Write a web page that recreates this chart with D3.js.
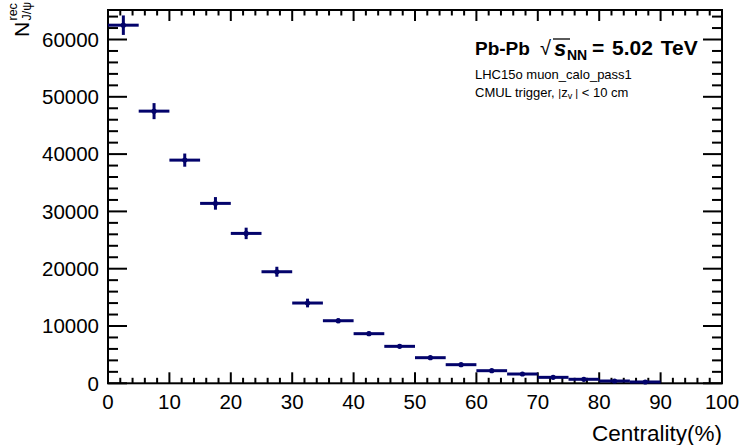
<!DOCTYPE html>
<html><head><meta charset="utf-8">
<script src="https://cdn.jsdelivr.net/npm/d3@7"></script>
<style>
body{margin:0;background:#fff;}
svg{display:block;font-family:"Liberation Sans",Arial,Helvetica,sans-serif;}
</style></head>
<body>
<svg id="c" width="744" height="445"></svg>
<script>
// ---- data ----
const binLow  = [0,5,10,15,20,25,30,35,40,45,50,55,60,65,70,75,80,85];
const binHigh = [5,10,15,20,25,30,35,40,45,50,55,60,65,70,75,80,85,90];
const counts  = [62500,47500,38950,31400,26160,19470,14010,10920,8660,6450,4470,3250,2200,1620,1040,700,400,230];
const errors  = [1700,1400,1150,1100,1000,870,760,430,350,300,250,220,180,150,120,100,80,60];
const xTicks  = [0,10,20,30,40,50,60,70,80,90,100];
const yTicks  = [0,10000,20000,30000,40000,50000,60000];

const svg = d3.select("#c");
const L=108, R=722, T=10, B=383.3;
const x = d3.scaleLinear().domain([0,100]).range([L,R]);
const y = d3.scaleLinear().domain([0,65150]).range([B,T]);
const col = "#03036b";

const xMinor = d3.range(0,101,2);
const yMinor = d3.range(0,65001,2000);

const g = svg.append("g").attr("stroke","#000").attr("stroke-width",2);
xMinor.forEach(v=>{
  const major = v%10===0;
  const len = major?11:5.5;
  g.append("line").attr("x1",x(v)).attr("x2",x(v)).attr("y1",B).attr("y2",B-len);
  g.append("line").attr("x1",x(v)).attr("x2",x(v)).attr("y1",T).attr("y2",T+len);
});
yMinor.forEach(v=>{
  const major = v%10000===0;
  const len = major?19:10;
  g.append("line").attr("y1",y(v)).attr("y2",y(v)).attr("x1",L).attr("x2",L+len);
  g.append("line").attr("y1",y(v)).attr("y2",y(v)).attr("x1",R).attr("x2",R-len);
});
svg.append("rect").attr("x",L).attr("y",T).attr("width",R-L).attr("height",B-T)
  .attr("fill","none").attr("stroke","#000").attr("stroke-width",2);

svg.append("g").selectAll("text").data(xTicks).join("text")
  .attr("x",d=>x(d)).attr("y",409).attr("text-anchor","middle")
  .attr("font-size",20.5).text(d=>d);
svg.append("g").selectAll("text").data(yTicks).join("text")
  .attr("x",99).attr("y",d=>y(d)).attr("dy","0.36em").attr("text-anchor","end")
  .attr("font-size",20.5).text(d=>d);

svg.append("text").attr("x",722).attr("y",441).attr("text-anchor","end")
  .attr("font-size",22.5).text("Centrality(%)");
const yt = svg.append("g").attr("transform","translate(29,37) rotate(-90)");
yt.append("text").attr("x",0).attr("y",0).attr("font-size",21).text("N");
yt.append("text").attr("x",16.5).attr("y",-12).attr("font-size",12.5).text("rec");
yt.append("text").attr("x",16.5).attr("y",2).attr("font-size",12.5).text("J/ψ");

const idx = d3.range(counts.length);
const dg = svg.append("g").attr("stroke",col).attr("stroke-width",3);
dg.selectAll("line.h").data(idx).join("line").attr("class","h")
  .attr("x1",i=>x(binLow[i])).attr("x2",i=>x(binHigh[i]))
  .attr("y1",i=>y(counts[i])).attr("y2",i=>y(counts[i]));
dg.selectAll("line.v").data(idx).join("line").attr("class","v")
  .attr("x1",i=>x((binLow[i]+binHigh[i])/2)).attr("x2",i=>x((binLow[i]+binHigh[i])/2))
  .attr("y1",i=>y(counts[i]-errors[i])).attr("y2",i=>y(counts[i]+errors[i]));
svg.append("g").selectAll("circle").data(idx).join("circle")
  .attr("cx",i=>x((binLow[i]+binHigh[i])/2)).attr("cy",i=>y(counts[i]))
  .attr("r",2.6).attr("fill",col);

// info text
const tx = 475;
const bold = (xx,yy,fs,txt)=>svg.append("text").attr("x",xx).attr("y",yy).attr("font-size",fs)
  .attr("font-weight","bold").text(txt);
bold(tx,55,19,"Pb-Pb");
svg.append("text").attr("x",540).attr("y",55).attr("font-size",20).text("√");
svg.append("line").attr("x1",553).attr("x2",570).attr("y1",39).attr("y2",39)
  .attr("stroke","#000").attr("stroke-width",1.3);
bold(554,56,22,"s").attr("font-style","italic");
bold(567,60,14,"NN");
bold(592,55,21,"= 5.02 TeV").attr("word-spacing",2);

svg.append("text").attr("x",tx).attr("y",79).attr("font-size",13).text("LHC15o muon_calo_pass1");
const t3 = svg.append("text").attr("x",tx).attr("y",97).attr("font-size",13);
t3.append("tspan").text("CMUL trigger, ");
t3.append("tspan").attr("font-size",11).text("|");
t3.append("tspan").text("z");
t3.append("tspan").attr("font-size",9).attr("dy",2).text("v");
t3.append("tspan").attr("font-size",11).attr("dy",-2).text(" |");
t3.append("tspan").text(" < 10 cm");
</script>
</body></html>
